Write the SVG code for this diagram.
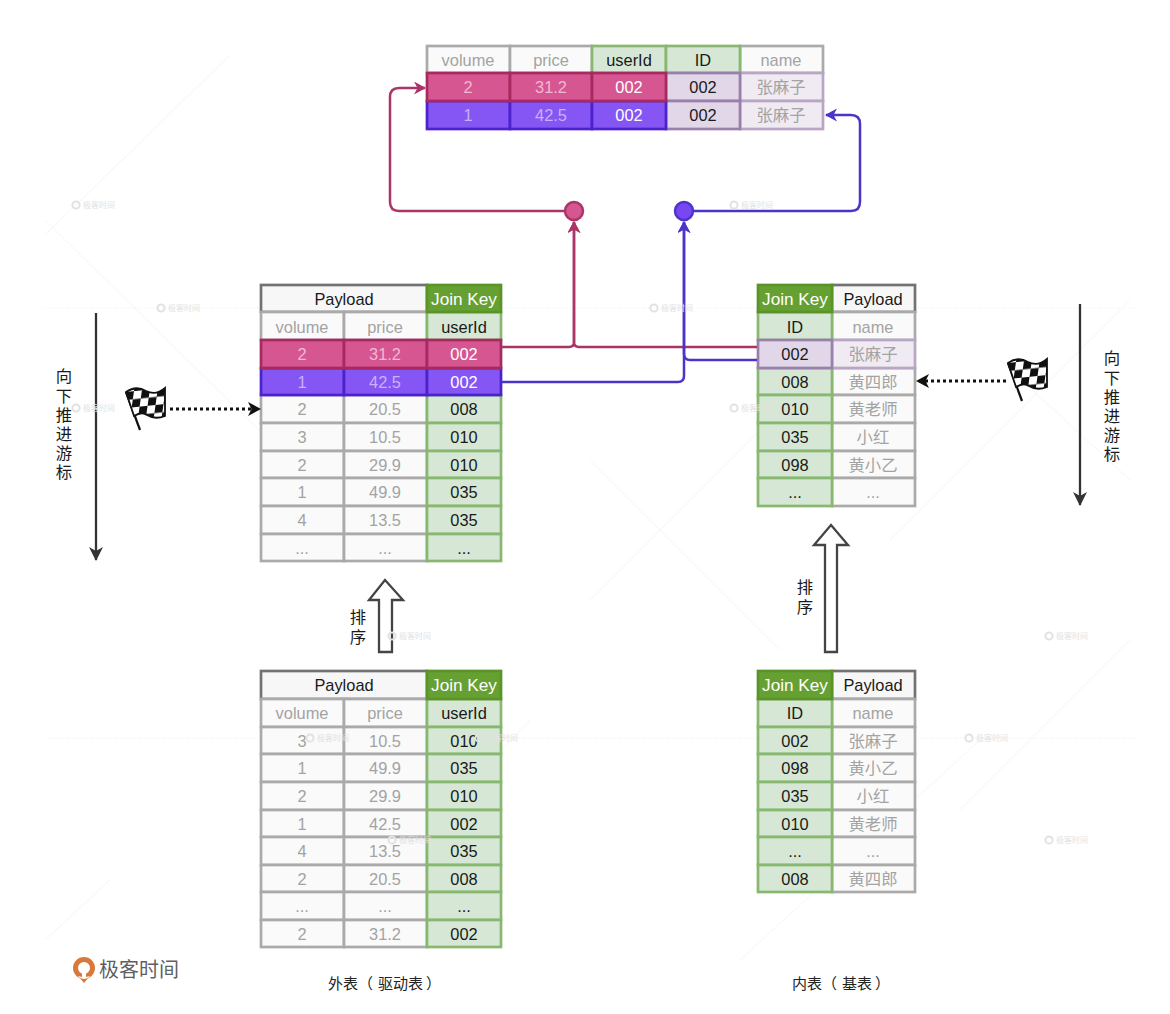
<svg xmlns="http://www.w3.org/2000/svg" width="1170" height="1014" viewBox="0 0 1170 1014">
<style>
text{font-family:"Liberation Sans","Noto Sans CJK SC",sans-serif;font-size:16.4px;text-anchor:middle}
.cjk{font-family:"Noto Sans CJK SC",sans-serif;font-size:16.4px}
.vert{writing-mode:vertical-rl;text-orientation:upright;text-anchor:start;letter-spacing:2.8px}
rect{stroke-width:2.7}
.c{fill:#fafafa;stroke:#aaa}
.g{fill:#d6e8d5;stroke:#88b770}
.hd{fill:#f7f7f7;stroke:#727272}
.jk{fill:#66a033;stroke:#5a9429}
.p{fill:#d65691;stroke:#a62a60}
.v{fill:#8556f4;stroke:#4c22cf}
.l{fill:#e2d7e8;stroke:#9a7fad}
.ll{fill:#f0eaf3;stroke:#b8a6c4}
.tg{fill:#a3a3a3}
.tk{fill:#1a1a1a}
.tw{fill:#fff}
.jt{fill:#fff;font-size:17.2px}
.tpp{fill:#f0b8d2}
.tpv{fill:#c8b2f8}
.cap{fill:#222;font-size:15px;text-anchor:start}
.wire{fill:none;stroke-width:2.5}
.rose{stroke:#ab3567}
.ind{stroke:#4a35c8}
.cursor{fill:none;stroke:#333;stroke-width:2.3}
.dots{fill:none;stroke:#111;stroke-width:2.8;stroke-dasharray:3 3}
.hollow{fill:#fff;stroke:#444;stroke-width:2.3;stroke-linejoin:miter}
.mark text{font-size:8px;fill:#e2e2e2}
.faint{fill:none;stroke:#f5f5f5;stroke-width:1}
.rule{fill:none;stroke:#ededed;stroke-width:1;stroke-dasharray:1 2}
</style>
<defs>
<marker id="headRose" markerWidth="14" markerHeight="14" refX="11" refY="6.500" orient="auto" markerUnits="userSpaceOnUse"><path d="M0 0L12 6.500L0 13L3.500 6.500Z" fill="#ab3567"/></marker>
<marker id="headInd" markerWidth="14" markerHeight="14" refX="11" refY="6.500" orient="auto" markerUnits="userSpaceOnUse"><path d="M0 0L12 6.500L0 13L3.500 6.500Z" fill="#4a35c8"/></marker>
<marker id="headDark" markerWidth="15" markerHeight="15" refX="12" refY="7" orient="auto" markerUnits="userSpaceOnUse"><path d="M0 0L13 7L0 14L3.500 7Z" fill="#111"/></marker>
<marker id="headCursor" markerWidth="15" markerHeight="15" refX="13" refY="7" orient="auto" markerUnits="userSpaceOnUse"><path d="M0 0L14 7L0 14L4 7Z" fill="#333"/></marker>
<pattern id="checks" width="16" height="16" patternUnits="userSpaceOnUse" patternTransform="translate(126 392) rotate(-6) skewX(-14)">
<rect width="16" height="16" fill="#fff" style="stroke:none"/>
<rect width="8" height="8" fill="#111" style="stroke:none"/>
<rect x="8" y="8" width="8" height="8" fill="#111" style="stroke:none"/>
</pattern>
<g id="flag">
<path d="M126 392L140 430" fill="none" stroke="#111" stroke-width="2.2"/>
<path d="M126 392Q136 385 146 391Q156 396 165 388L165 416Q155 420 147 415Q142 411 134 416Z" fill="url(#checks)" stroke="#111" stroke-width="1.8"/>
</g>
<g id="wm" class="mark">
<circle cx="4" cy="0" r="3.600" fill="none" stroke="#e2e2e2" stroke-width="2"/>
<text x="27" y="3">极客时间</text>
</g>
</defs>

<!-- Background guide lines -->
<g id="backdrop">
<path class="rule" d="M45 308H1135M45 738H1135"/>
<path class="faint" d="M45 220L330 500M230 55L45 235M590 600L820 370M1130 300L890 540M590 460L780 650M1130 640L960 810M310 950L530 720M110 880L45 940M1130 480L1000 360M740 960L980 740"/>
</g>

<!-- Result table -->
<g id="result-table">
<rect class="c" x="427" y="46" width="83" height="27"/>
<rect class="c" x="510" y="46" width="82" height="27"/>
<rect class="c" x="740" y="46" width="83" height="27"/>
<rect class="g" x="592" y="46" width="74" height="27"/>
<rect class="g" x="666" y="46" width="74" height="27"/>
<rect class="ll" x="740" y="73" width="83" height="28"/>
<rect class="ll" x="740" y="101" width="83" height="28"/>
<rect class="l" x="666" y="73" width="74" height="28"/>
<rect class="l" x="666" y="101" width="74" height="28"/>
<rect class="v" x="427" y="101" width="83" height="28"/>
<rect class="v" x="510" y="101" width="82" height="28"/>
<rect class="v" x="592" y="101" width="74" height="28"/>
<rect class="p" x="427" y="73" width="83" height="28"/>
<rect class="p" x="510" y="73" width="82" height="28"/>
<rect class="p" x="592" y="73" width="74" height="28"/>
<text class="tg" x="468" y="66">volume</text>
<text class="tg" x="551" y="66">price</text>
<text class="tk" x="629" y="66">userId</text>
<text class="tk" x="703" y="66">ID</text>
<text class="tg" x="781" y="66">name</text>
<text class="tpp" x="468" y="93">2</text>
<text class="tpp" x="551" y="93">31.2</text>
<text class="tw" x="629" y="93">002</text>
<text class="tk" x="703" y="93">002</text>
<text class="tg cjk" x="781" y="93">张麻子</text>
<text class="tpv" x="468" y="121">1</text>
<text class="tpv" x="551" y="121">42.5</text>
<text class="tw" x="629" y="121">002</text>
<text class="tk" x="703" y="121">002</text>
<text class="tg cjk" x="781" y="121">张麻子</text>
</g>

<!-- Sorted outer table -->
<g id="sorted-outer">
<rect class="hd" x="261" y="285" width="166" height="27"/>
<rect class="c" x="261" y="312" width="83" height="28"/>
<rect class="c" x="344" y="312" width="83" height="28"/>
<rect class="c" x="261" y="395" width="83" height="28"/>
<rect class="c" x="344" y="395" width="83" height="28"/>
<rect class="c" x="261" y="423" width="83" height="28"/>
<rect class="c" x="344" y="423" width="83" height="28"/>
<rect class="c" x="261" y="451" width="83" height="27"/>
<rect class="c" x="344" y="451" width="83" height="27"/>
<rect class="c" x="261" y="478" width="83" height="28"/>
<rect class="c" x="344" y="478" width="83" height="28"/>
<rect class="c" x="261" y="506" width="83" height="28"/>
<rect class="c" x="344" y="506" width="83" height="28"/>
<rect class="c" x="261" y="534" width="83" height="27"/>
<rect class="c" x="344" y="534" width="83" height="27"/>
<rect class="g" x="427" y="312" width="74" height="28"/>
<rect class="g" x="427" y="395" width="74" height="28"/>
<rect class="g" x="427" y="423" width="74" height="28"/>
<rect class="g" x="427" y="451" width="74" height="27"/>
<rect class="g" x="427" y="478" width="74" height="28"/>
<rect class="g" x="427" y="506" width="74" height="28"/>
<rect class="g" x="427" y="534" width="74" height="27"/>
<rect class="jk" x="427" y="285" width="74" height="27"/>
<rect class="v" x="261" y="368" width="83" height="27"/>
<rect class="v" x="344" y="368" width="83" height="27"/>
<rect class="v" x="427" y="368" width="74" height="27"/>
<rect class="p" x="261" y="340" width="83" height="28"/>
<rect class="p" x="344" y="340" width="83" height="28"/>
<rect class="p" x="427" y="340" width="74" height="28"/>
<text class="tk" x="344" y="305">Payload</text>
<text class="jt" x="464" y="305">Join Key</text>
<text class="tg" x="302" y="333">volume</text>
<text class="tg" x="385" y="333">price</text>
<text class="tk" x="464" y="333">userId</text>
<text class="tpp" x="302" y="360">2</text><text class="tpp" x="385" y="360">31.2</text><text class="tw" x="464" y="360">002</text>
<text class="tpv" x="302" y="388">1</text><text class="tpv" x="385" y="388">42.5</text><text class="tw" x="464" y="388">002</text>
<text class="tg" x="302" y="415">2</text><text class="tg" x="385" y="415">20.5</text><text class="tk" x="464" y="415">008</text>
<text class="tg" x="302" y="443">3</text><text class="tg" x="385" y="443">10.5</text><text class="tk" x="464" y="443">010</text>
<text class="tg" x="302" y="471">2</text><text class="tg" x="385" y="471">29.9</text><text class="tk" x="464" y="471">010</text>
<text class="tg" x="302" y="498">1</text><text class="tg" x="385" y="498">49.9</text><text class="tk" x="464" y="498">035</text>
<text class="tg" x="302" y="526">4</text><text class="tg" x="385" y="526">13.5</text><text class="tk" x="464" y="526">035</text>
<text class="tg" x="302" y="554">...</text><text class="tg" x="385" y="554">...</text><text class="tk" x="464" y="554">...</text>
</g>

<!-- Sorted inner table -->
<g id="sorted-inner">
<rect class="hd" x="832" y="285" width="83" height="27"/>
<rect class="c" x="832" y="312" width="83" height="28"/>
<rect class="c" x="832" y="368" width="83" height="27"/>
<rect class="c" x="832" y="395" width="83" height="28"/>
<rect class="c" x="832" y="423" width="83" height="28"/>
<rect class="c" x="832" y="451" width="83" height="27"/>
<rect class="c" x="832" y="478" width="83" height="28"/>
<rect class="g" x="758" y="312" width="74" height="28"/>
<rect class="g" x="758" y="368" width="74" height="27"/>
<rect class="g" x="758" y="395" width="74" height="28"/>
<rect class="g" x="758" y="423" width="74" height="28"/>
<rect class="g" x="758" y="451" width="74" height="27"/>
<rect class="g" x="758" y="478" width="74" height="28"/>
<rect class="jk" x="758" y="285" width="74" height="27"/>
<rect class="ll" x="832" y="340" width="83" height="28"/>
<rect class="l" x="758" y="340" width="74" height="28"/>
<text class="jt" x="795" y="305">Join Key</text>
<text class="tk" x="873" y="305">Payload</text>
<text class="tk" x="795" y="333">ID</text><text class="tg" x="873" y="333">name</text>
<text class="tk" x="795" y="360">002</text><text class="tg cjk" x="873" y="360">张麻子</text>
<text class="tk" x="795" y="388">008</text><text class="tg cjk" x="873" y="388">黄四郎</text>
<text class="tk" x="795" y="415">010</text><text class="tg cjk" x="873" y="415">黄老师</text>
<text class="tk" x="795" y="443">035</text><text class="tg cjk" x="873" y="443">小红</text>
<text class="tk" x="795" y="471">098</text><text class="tg cjk" x="873" y="471">黄小乙</text>
<text class="tk" x="795" y="498">...</text><text class="tg" x="873" y="498">...</text>
</g>

<!-- Unsorted outer table -->
<g id="raw-outer">
<rect class="hd" x="261" y="671" width="166" height="28"/>
<rect class="c" x="261" y="699" width="83" height="28"/><rect class="c" x="344" y="699" width="83" height="28"/>
<rect class="c" x="261" y="727" width="83" height="27"/><rect class="c" x="344" y="727" width="83" height="27"/>
<rect class="c" x="261" y="754" width="83" height="28"/><rect class="c" x="344" y="754" width="83" height="28"/>
<rect class="c" x="261" y="782" width="83" height="28"/><rect class="c" x="344" y="782" width="83" height="28"/>
<rect class="c" x="261" y="810" width="83" height="27"/><rect class="c" x="344" y="810" width="83" height="27"/>
<rect class="c" x="261" y="837" width="83" height="28"/><rect class="c" x="344" y="837" width="83" height="28"/>
<rect class="c" x="261" y="865" width="83" height="27"/><rect class="c" x="344" y="865" width="83" height="27"/>
<rect class="c" x="261" y="892" width="83" height="28"/><rect class="c" x="344" y="892" width="83" height="28"/>
<rect class="c" x="261" y="920" width="83" height="27"/><rect class="c" x="344" y="920" width="83" height="27"/>
<rect class="g" x="427" y="699" width="74" height="28"/>
<rect class="g" x="427" y="727" width="74" height="27"/>
<rect class="g" x="427" y="754" width="74" height="28"/>
<rect class="g" x="427" y="782" width="74" height="28"/>
<rect class="g" x="427" y="810" width="74" height="27"/>
<rect class="g" x="427" y="837" width="74" height="28"/>
<rect class="g" x="427" y="865" width="74" height="27"/>
<rect class="g" x="427" y="892" width="74" height="28"/>
<rect class="g" x="427" y="920" width="74" height="27"/>
<rect class="jk" x="427" y="671" width="74" height="28"/>
<text class="tk" x="344" y="691">Payload</text>
<text class="jt" x="464" y="691">Join Key</text>
<text class="tg" x="302" y="719">volume</text><text class="tg" x="385" y="719">price</text><text class="tk" x="464" y="719">userId</text>
<text class="tg" x="302" y="747">3</text><text class="tg" x="385" y="747">10.5</text><text class="tk" x="464" y="747">010</text>
<text class="tg" x="302" y="774">1</text><text class="tg" x="385" y="774">49.9</text><text class="tk" x="464" y="774">035</text>
<text class="tg" x="302" y="802">2</text><text class="tg" x="385" y="802">29.9</text><text class="tk" x="464" y="802">010</text>
<text class="tg" x="302" y="830">1</text><text class="tg" x="385" y="830">42.5</text><text class="tk" x="464" y="830">002</text>
<text class="tg" x="302" y="857">4</text><text class="tg" x="385" y="857">13.5</text><text class="tk" x="464" y="857">035</text>
<text class="tg" x="302" y="885">2</text><text class="tg" x="385" y="885">20.5</text><text class="tk" x="464" y="885">008</text>
<text class="tg" x="302" y="912">...</text><text class="tg" x="385" y="912">...</text><text class="tk" x="464" y="912">...</text>
<text class="tg" x="302" y="940">2</text><text class="tg" x="385" y="940">31.2</text><text class="tk" x="464" y="940">002</text>
</g>

<!-- Unsorted inner table -->
<g id="raw-inner">
<rect class="hd" x="832" y="671" width="83" height="28"/>
<rect class="c" x="832" y="699" width="83" height="28"/>
<rect class="c" x="832" y="727" width="83" height="27"/>
<rect class="c" x="832" y="754" width="83" height="28"/>
<rect class="c" x="832" y="782" width="83" height="28"/>
<rect class="c" x="832" y="810" width="83" height="27"/>
<rect class="c" x="832" y="837" width="83" height="28"/>
<rect class="c" x="832" y="865" width="83" height="27"/>
<rect class="g" x="758" y="699" width="74" height="28"/>
<rect class="g" x="758" y="727" width="74" height="27"/>
<rect class="g" x="758" y="754" width="74" height="28"/>
<rect class="g" x="758" y="782" width="74" height="28"/>
<rect class="g" x="758" y="810" width="74" height="27"/>
<rect class="g" x="758" y="837" width="74" height="28"/>
<rect class="g" x="758" y="865" width="74" height="27"/>
<rect class="jk" x="758" y="671" width="74" height="28"/>
<text class="jt" x="795" y="691">Join Key</text><text class="tk" x="873" y="691">Payload</text>
<text class="tk" x="795" y="719">ID</text><text class="tg" x="873" y="719">name</text>
<text class="tk" x="795" y="747">002</text><text class="tg cjk" x="873" y="747">张麻子</text>
<text class="tk" x="795" y="774">098</text><text class="tg cjk" x="873" y="774">黄小乙</text>
<text class="tk" x="795" y="802">035</text><text class="tg cjk" x="873" y="802">小红</text>
<text class="tk" x="795" y="830">010</text><text class="tg cjk" x="873" y="830">黄老师</text>
<text class="tk" x="795" y="857">...</text><text class="tg" x="873" y="857">...</text>
<text class="tk" x="795" y="885">008</text><text class="tg cjk" x="873" y="885">黄四郎</text>
</g>

<!-- Join links, merge points and cursor arrows -->
<g id="connectors">
<path class="wire rose" d="M502 347H569Q574 347 574 342V222" marker-end="url(#headRose)"/>
<path class="wire rose" d="M757 347H579Q574 347 574 342V222" marker-end="url(#headRose)"/>
<path class="wire ind" d="M502 382H678Q684 382 684 376V222" marker-end="url(#headInd)"/>
<path class="wire ind" d="M757 360H690Q684 360 684 354V222" marker-end="url(#headInd)"/>
<path class="wire rose" d="M565 211H399Q390 211 390 202V97Q390 88 399 88H425" marker-end="url(#headRose)"/>
<path class="wire ind" d="M693 211H851Q860 211 860 202V124Q860 115 851 115H826" marker-end="url(#headInd)"/>
<path class="cursor" d="M96 313V560" marker-end="url(#headCursor)"/>
<path class="cursor" d="M1080 304V505" marker-end="url(#headCursor)"/>
<path class="dots" d="M170 409H260" marker-end="url(#headDark)"/>
<path class="dots" d="M1006 381H917" marker-end="url(#headDark)"/>
</g>
<g id="merge-rose"><circle cx="574" cy="211" r="9" fill="#d65691" stroke="#ab3567" stroke-width="2.5"/></g>
<g id="merge-indigo"><circle cx="684" cy="211" r="9" fill="#7a45f2" stroke="#4a35c8" stroke-width="2.5"/></g>

<!-- Sort arrows -->
<g id="sort-left">
<path class="hollow" d="M385 580L403 600H392V652H379V600H369Z"/>
<text class="cjk tk vert" x="358" y="609" style="letter-spacing:3.600px">排序</text>
</g>
<g id="sort-right">
<path class="hollow" d="M831 525L848 545H837V652H825V545H814Z"/>
<text class="cjk tk vert" x="805" y="579">排序</text>
</g>

<!-- Cursor flags and labels -->
<g id="flag-left"><use href="#flag"/></g>
<g id="flag-right"><use href="#flag" transform="translate(882 -29)"/></g>
<g id="cursor-left-label">
<text class="cjk tk vert" x="64" y="368">向下推进游标</text>
</g>
<g id="cursor-right-label">
<text class="cjk tk vert" x="1112" y="350">向下推进游标</text>
</g>

<!-- Table captions -->
<text class="cjk cap" x="328" y="989" style="font-size:15px">外表（<tspan dx="5">驱动表</tspan><tspan dx="3">）</tspan></text>
<text class="cjk cap" x="792" y="989" style="font-size:15px">内表（<tspan dx="5">基表</tspan><tspan dx="3">）</tspan></text>

<!-- Brand mark -->
<g id="brand">
<circle cx="84" cy="968" r="8.500" fill="none" stroke="#d9783c" stroke-width="5"/>
<path d="M78 976L84 984L90 976L86 977V970H82V977Z" fill="#fff"/>
<path d="M79 977Q84 981 89 977L84 983Z" fill="#d9783c"/>
<text x="139" y="977" style="font-size:20px;fill:#5f5f5f" class="cjk">极客时间</text>
</g>

<!-- Repeating marks -->
<g id="marks">
<use href="#wm" x="72" y="205"/>
<use href="#wm" x="157" y="308"/>
<use href="#wm" x="72" y="408"/>
<use href="#wm" x="650" y="308"/>
<use href="#wm" x="730" y="205"/>
<use href="#wm" x="730" y="408"/>
<use href="#wm" x="388" y="636"/>
<use href="#wm" x="1045" y="636"/>
<use href="#wm" x="306" y="738"/>
<use href="#wm" x="475" y="738"/>
<use href="#wm" x="965" y="738"/>
<use href="#wm" x="388" y="840"/>
<use href="#wm" x="1045" y="840"/>
</g>
</svg>
